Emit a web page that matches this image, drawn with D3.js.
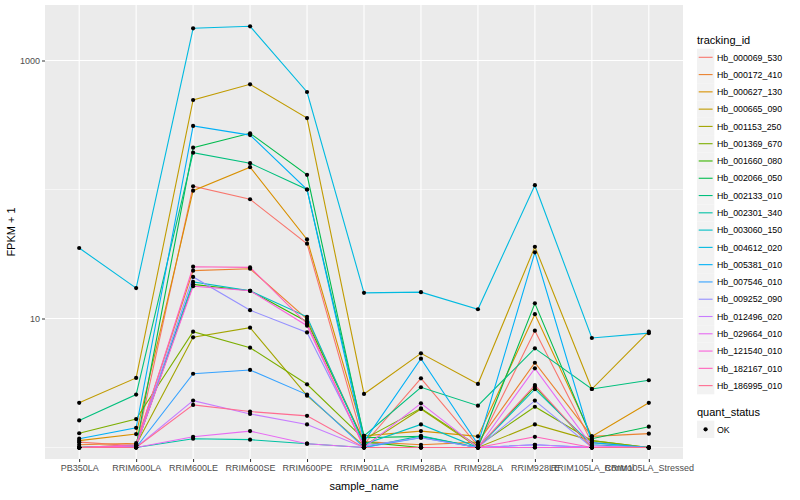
<!DOCTYPE html>
<html><head><meta charset="utf-8">
<script src="https://cdn.jsdelivr.net/npm/d3@7"></script>
<style>body{margin:0;background:#fff}text{font-family:"Liberation Sans",Arial,sans-serif}</style>
</head><body><svg id="c" width="800" height="500"></svg>
<script>
const samples = ["PB350LA","RRIM600LA","RRIM600LE","RRIM600SE","RRIM600PE","RRIM901LA","RRIM928BA","RRIM928LA","RRIM928LE","RRIM105LA_Control","RRIM105LA_Stressed"];
const trackingIds = ["Hb_000069_530","Hb_000172_410","Hb_000627_130","Hb_000665_090","Hb_001153_250","Hb_001369_670","Hb_001660_080","Hb_002066_050","Hb_002133_010","Hb_002301_340","Hb_003060_150","Hb_004612_020","Hb_005381_010","Hb_007546_010","Hb_009252_090","Hb_012496_020","Hb_029664_010","Hb_121540_010","Hb_182167_010","Hb_186995_010"];
const seriesColors = ["#F8766D","#EA8331","#D89000","#C09B00","#A3A500","#7CAE00","#39B600","#00BB4E","#00BF7D","#00C1A3","#00BFC4","#00BAE0","#00B0F6","#35A2FF","#9590FF","#C77CFF","#E76BF3","#FA62DB","#FF62BC","#FF6C91"];
// FPKM + 1 values, one array per tracking_id, in sample order
const v_000069_530 = [1.10, 1.03, 106, 84, 38, 1.06, 3.44, 1.03, 8.05, 1.09, 1.0];
const v_000172_410 = [1.05, 1.08, 23.5, 24.3, 9.9, 1.11, 1.05, 1.10, 4.54, 1.22, 1.28];
const v_000627_130 = [1.13, 1.27, 98, 149, 41, 1.23, 1.34, 1.22, 10.8, 1.22, 2.22];
const v_000665_090 = [2.22, 3.46, 494, 654, 358, 2.6, 5.37, 3.11, 36, 2.84, 7.9];
const v_001153_250 = [1.0, 1.05, 7.15, 8.49, 2.52, 1.03, 1.99, 1.0, 1.51, 1.13, 1.0];
const v_001369_670 = [1.29, 1.66, 7.9, 5.94, 3.09, 1.16, 2.01, 1.03, 2.07, 1.13, 1.0];
const v_001660_080 = [1.0, 1.03, 18.4, 16.4, 9.45, 1.10, 1.0, 1.0, 2.96, 1.0, 1.0];
const v_002066_050 = [1.0, 1.03, 211, 273, 130, 1.19, 1.22, 1.0, 13.1, 1.17, 1.45];
const v_002133_010 = [1.62, 2.57, 193, 160, 100, 1.23, 2.93, 2.11, 5.87, 2.84, 3.32];
const v_002301_340 = [1.0, 1.0, 1.17, 1.15, 1.07, 1.0, 1.23, 1.0, 1.0, 1.0, 1.0];
const v_003060_150 = [1.0, 1.03, 19.2, 16.4, 10.3, 1.06, 1.51, 1.0, 2.83, 1.05, 1.0];
const v_004612_020 = [35.2, 17.2, 1777, 1842, 570, 15.8, 16.0, 11.8, 108, 7.06, 7.7];
const v_005381_010 = [1.17, 1.42, 311, 264, 100, 1.11, 4.88, 1.06, 32.6, 1.09, 1.0];
const v_007546_010 = [1.0, 1.0, 3.73, 3.99, 2.57, 1.0, 1.19, 1.0, 1.05, 1.0, 1.0];
const v_009252_090 = [1.0, 1.03, 21.0, 11.6, 7.8, 1.03, 1.19, 1.0, 2.31, 1.0, 1.0];
const v_012496_020 = [1.0, 1.0, 2.31, 1.82, 1.51, 1.0, 1.0, 1.0, 1.05, 1.0, 1.0];
const v_029664_010 = [1.0, 1.0, 1.21, 1.34, 1.07, 1.0, 2.20, 1.0, 4.11, 1.03, 1.0];
const v_121540_010 = [1.0, 1.03, 17.8, 16.4, 8.8, 1.0, 1.0, 1.0, 1.0, 1.0, 1.0];
const v_182167_010 = [1.0, 1.05, 25.2, 24.9, 9.1, 1.0, 1.0, 1.0, 1.21, 1.0, 1.0];
const v_186995_010 = [1.0, 1.0, 2.14, 1.90, 1.76, 1.0, 1.0, 1.0, 3.05, 1.0, 1.0];
const seriesValues = [v_000069_530,v_000172_410,v_000627_130,v_000665_090,v_001153_250,v_001369_670,v_001660_080,v_002066_050,v_002133_010,v_002301_340,v_003060_150,v_004612_020,v_005381_010,v_007546_010,v_009252_090,v_012496_020,v_029664_010,v_121540_010,v_182167_010,v_186995_010];
const yTicks = [10, 1000];
const yMinor = [1, 100];
const qualityLevels = ["OK"];

const svg = d3.select("#c");
const P = {l:45, r:683, t:5, b:459};
const x = d3.scalePoint().domain(samples).range([P.l, P.r]).padding(0.6);
// log axis: 1 decade = 129px; panel spans from 10^-0.089 to 10^3.43
const y = d3.scaleLog().domain([Math.pow(10,(447.5-459)/129), Math.pow(10,(447.5-5)/129)]).range([P.b, P.t]);

svg.append("rect").attr("x",P.l).attr("y",P.t).attr("width",P.r-P.l).attr("height",P.b-P.t).attr("fill","#EBEBEB");
const g = svg.append("g");
yMinor.forEach(v=>g.append("line").attr("x1",P.l).attr("x2",P.r).attr("y1",y(v)).attr("y2",y(v)).attr("stroke","#fff").attr("stroke-width",0.55));
yTicks.forEach(v=>g.append("line").attr("x1",P.l).attr("x2",P.r).attr("y1",y(v)).attr("y2",y(v)).attr("stroke","#fff").attr("stroke-width",1.1));
samples.forEach(s=>g.append("line").attr("x1",x(s)).attr("x2",x(s)).attr("y1",P.t).attr("y2",P.b).attr("stroke","#fff").attr("stroke-width",1.1));

const line = d3.line().x((d,i)=>x(samples[i])).y(d=>y(d));
seriesValues.forEach((vals,k)=>{
  g.append("path").datum(vals).attr("d",line).attr("fill","none").attr("stroke",seriesColors[k]).attr("stroke-width",1.1);
});
seriesValues.forEach((vals,k)=>{
  g.selectAll(null).data(vals).enter().append("circle")
    .attr("cx",(d,i)=>x(samples[i])).attr("cy",d=>y(d)).attr("r",2.1).attr("fill","#000");
});

// axes
const yAxis = d3.axisLeft(y).tickValues(yTicks).tickFormat(d3.format("d")).tickSize(3).tickPadding(2);
const ya = svg.append("g").attr("transform",`translate(${P.l},0)`).call(yAxis);
const xAxis = d3.axisBottom(x).tickSize(3).tickPadding(3);
const xa = svg.append("g").attr("transform",`translate(0,${P.b})`).call(xAxis);
[ya,xa].forEach(a=>{a.select(".domain").remove();a.selectAll(".tick line").attr("stroke","#333");a.selectAll("text").attr("fill","#4D4D4D").style("font-size","9px").style("font-family","Liberation Sans, Arial, sans-serif");});

svg.append("text").attr("x",(P.l+P.r)/2).attr("y",490).attr("text-anchor","middle").style("font-size","11px").attr("fill","#000").text("sample_name");
svg.append("text").attr("transform",`translate(15,${(P.t+P.b)/2}) rotate(-90)`).attr("text-anchor","middle").style("font-size","11px").attr("fill","#000").text("FPKM + 1");

// legend
const L = svg.append("g");
L.append("text").attr("x",697).attr("y",44).style("font-size","11px").text("tracking_id");
trackingIds.forEach((id,k)=>{
  const cy = 57.3 + k*17.28;
  L.append("rect").attr("x",697).attr("y",cy-8.6).attr("width",17.3).attr("height",17.3).attr("fill","#F2F2F2");
  L.append("line").attr("x1",698.7).attr("x2",712.6).attr("y1",cy).attr("y2",cy).attr("stroke",seriesColors[k]).attr("stroke-width",1.1);
  L.append("text").attr("x",717).attr("y",cy+3.2).style("font-size","8.8px").attr("fill","#000").text(id);
});
L.append("text").attr("x",697).attr("y",416).style("font-size","11px").text("quant_status");
qualityLevels.forEach((q,k)=>{
  const cy = 429.3 + k*17.28;
  L.append("rect").attr("x",697).attr("y",cy-8.6).attr("width",17.3).attr("height",17.3).attr("fill","#F2F2F2");
  L.append("circle").attr("cx",705.6).attr("cy",cy).attr("r",2.1).attr("fill","#000");
  L.append("text").attr("x",717).attr("y",cy+3.2).style("font-size","8.8px").attr("fill","#000").text(q);
});
</script></body></html>
